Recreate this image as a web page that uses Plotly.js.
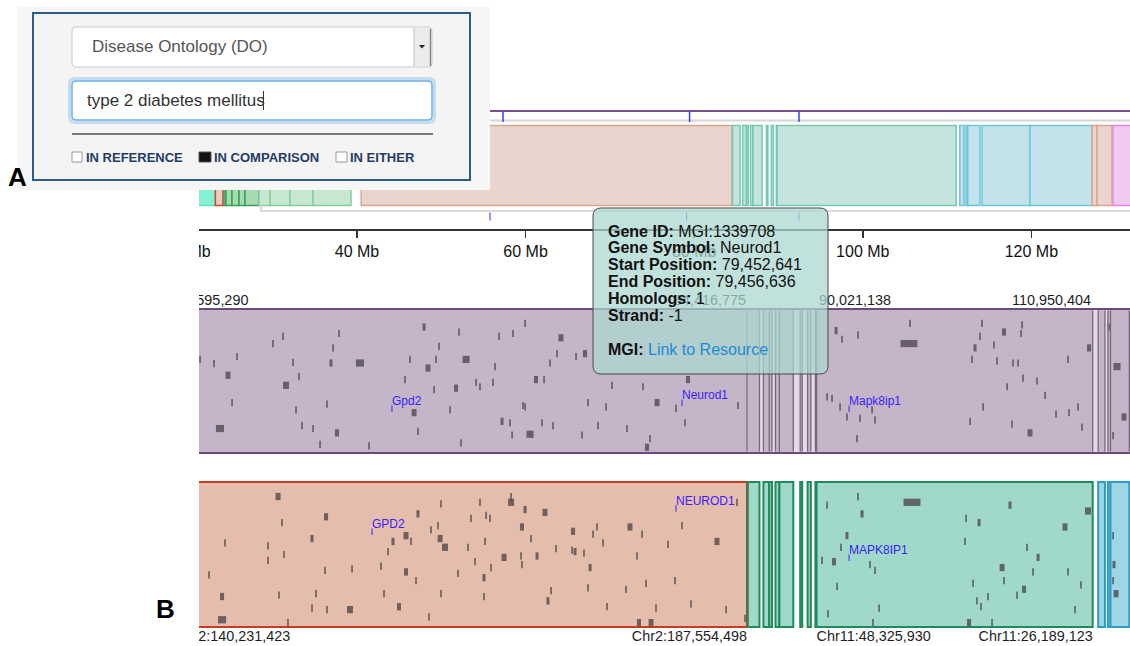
<!DOCTYPE html>
<html><head><meta charset="utf-8">
<script src="https://cdn.plot.ly/plotly-3.0.1.min.js"></script>
<style>html,body{margin:0;padding:0;background:#fff;} #chart{width:1130px;height:646px;}</style>
</head><body><div id="chart"></div>
<script>
// ================= DATA =================
// Synteny blocks along mouse chr2 (Mb) and the colour group of the homologous human chromosome
const blockStart = [19.0, 23.2, 24.22, 24.46, 25.17, 26.0, 26.71, 28.37, 29.68, 32.05, 34.78, 40.5, 84.55, 85.75, 86.2, 86.68, 86.98, 88.58, 89.15, 89.75, 89.84, 111.5, 112.25, 112.45, 114.14, 119.83, 127.19, 127.78, 129.68];
const blockEnd   = [23.16, 24.1, 24.46, 25.17, 26.0, 26.71, 28.37, 29.68, 32.05, 34.78, 39.29, 84.49, 85.45, 86.2, 86.41, 86.98, 88.05, 88.74, 89.4, 89.84, 111.08, 112.02, 112.45, 113.9, 119.83, 127.19, 127.78, 129.56, 136.0];
const blockGroup = ['mint','red','green2','green2','green2','green2','green2','green','green','green','green','orange','teal','teal','teal','teal','teal','teal','teal','teal','teal','blue','blue','blue','blue','blue','orange','orange','pink'];

// overview axis ticks (Mb)
const ovTickVals = [20, 40, 60, 80, 100, 120];
// gene markers on the overview (Mb)
const ovGeneTop = [57.32, 79.45, 92.43];
const ovGeneLow = [55.78, 79.10, 92.43];

// reference (mouse) track block-boundary labels
const refLabelRightVals = [84.416775, 110.950404];
const refLabelRightText = ['84,416,775', '110,950,404'];
const refLabelLeftVals = [40.595290, 90.021138];
const refLabelLeftText = ['40,595,290', '90,021,138'];
// comparison (human) track labels
const compLabelRightVals = [84.49, 111.08];
const compLabelRightText = ['Chr2:187,554,498', 'Chr11:26,189,123'];
const compLabelLeftVals = [40.5, 89.84];
const compLabelLeftText = ['Chr2:140,231,423', 'Chr11:48,325,930'];

// reference track genes (position Mb, lane 0=top..1=bottom, width Mb)
const refMarkX = [42.42,43.49,44.57,43.95,44.88,45.26,48.03,48.80,49.03,49.57,
49.80,50.03,50.26,51.11,51.65,52.18,52.49,52.65,52.95,53.11,
54.72,55.42,58.18,58.57,58.88,59.18,59.65,59.95,60.57,60.80,
60.42,61.65,62.11,62.34,62.49,62.88,63.65,63.95,64.95,65.11,
65.42,65.65,66.26,66.42,66.49,67.42,67.80,68.26,68.88,68.72,
69.34,69.57,69.88,70.18,71.34,72.03,71.80,73.03,73.65,74.11,
75.26,76.49,76.80,77.03,77.57,67.42,67.26,72.26,79.03,79.72,
79.95,91.34,91.80,93.03,96.95,97.03,91.03,91.65,92.18,93.18,
94.34,94.11,92.95,102.57,104.26,105.65,105.57,102.42,102.03,101.80,
103.72,104.95,105.34,106.80,109.18,110.80,112.95,113.49,112.65,106.26,
102.65,104.88,108.26,109.26,109.95,110.26,112.34,101.65,103.49,105.72,
104.50,107.42,83.80,90.65];
const refMarkLane = [0.35,0.38,0.46,0.83,0.65,0.33,0.24,0.19,0.53,0.37,
0.70,0.47,0.81,0.83,0.94,0.66,0.375,0.27,0.86,0.17,
0.375,0.95,0.49,0.35,0.72,0.85,0.125,0.41,0.35,0.26,
0.56,0.70,0.55,0.16,0.93,0.35,0.51,0.54,0.51,0.40,
0.19,0.78,0.79,0.875,0.17,0.10,0.87,0.49,0.49,0.79,
0.375,0.81,0.31,0.20,0.33,0.31,0.875,0.81,0.68,0.53,
0.83,0.54,0.96,0.90,0.65,0.68,0.67,0.65,0.69,0.79,
0.49,0.15,0.21,0.18,0.24,0.10,0.62,0.68,0.75,0.76,
0.77,0.70,0.90,0.10,0.16,0.11,0.17,0.19,0.27,0.35,
0.36,0.375,0.375,0.50,0.35,0.27,0.40,0.75,0.88,0.86,
0.68,0.80,0.73,0.72,0.68,0.82,0.125,0.78,0.25,0.48,
0.54,0.60,0.67,0.61];
const refMarkW = [0.13,0.13,0.38,0.62,0.13,0.13,0.13,0.13,0.46,0.13,
0.13,0.13,0.13,0.13,0.13,0.13,0.23,0.13,0.31,0.13,
0.62,0.13,0.13,0.13,0.38,0.13,0.23,0.38,0.13,0.13,
0.13,0.13,0.31,0.13,0.13,0.54,0.13,0.13,0.13,0.13,
0.13,0.23,0.13,0.13,0.13,0.13,0.54,0.31,0.13,0.13,
0.13,0.13,0.13,0.38,0.13,0.31,0.13,0.13,0.13,0.13,
0.13,0.13,0.31,0.13,0.38,0.13,0.13,0.13,0.13,0.13,
0.31,0.23,0.13,0.13,1.3,0.13,0.13,0.13,0.13,0.13,
0.13,0.13,0.13,0.13,0.31,0.13,0.13,0.13,0.23,0.13,
0.13,0.13,0.13,0.13,0.13,0.31,0.54,0.38,0.13,0.38,
0.13,0.13,0.13,0.13,0.13,0.13,0.13,0.13,0.13,0.13,
0.13,0.13,0.13,0.13];

// comparison track genes
const compMarkX = [48.42,44.11,44.11,43.11,44.34,47.65,47.65,48.72,48.88,48.49,
49.18,51.03,52.11,51.34,51.03,52.03,53.95,54.11,52.18,58.26,
57.26,58.65,58.26,57.72,56.88,56.34,56.57,59.18,59.03,60.03,
60.18,60.88,61.26,60.95,60.72,60.95,62.26,63.03,63.26,63.95,
63.57,64.26,64.42,64.72,64.80,64.34,64.26,65.80,66.34,66.34,
67.42,67.18,67.11,67.18,68.34,67.88,68.95,69.42,69.18,69.80,
71.11,71.26,71.95,72.42,72.95,72.65,73.42,73.72,75.18,75.49,
76.42,76.03,76.72,76.18,77.11,77.49,78.95,79.49,80.18,82.18,
82.88,83.72,84.34,71.03,78.42,72.26,97.18,93.03,93.34,92.18,
91.72,90.26,91.18,93.95,94.34,94.65,94.18,90.72,91.42,90.65,
104.72,101.34,102.34,108.95,110.72,106.88,106.03,104.11,105.80,101.88,
102.18,102.49,101.57,103.34,109.18,110.18,109.72,106.49,104.26,101.26,
103.03,105.26,112.88,112.72,112.65,112.65];
const compMarkLane = [0.10,0.95,0.79,0.64,0.42,0.44,0.54,0.28,0.50,0.78,
0.97,0.39,0.24,0.77,0.87,0.61,0.88,0.60,0.88,0.37,
0.41,0.41,0.62,0.86,0.48,0.58,0.77,0.22,0.68,0.93,
0.33,0.39,0.45,0.15,0.30,0.77,0.63,0.45,0.25,0.14,
0.55,0.66,0.23,0.25,0.59,0.41,0.79,0.52,0.14,0.10,
0.19,0.31,0.51,0.57,0.51,0.39,0.21,0.75,0.82,0.46,
0.34,0.48,0.49,0.59,0.31,0.36,0.42,0.86,0.74,0.31,
0.36,0.51,0.70,0.97,0.97,0.87,0.68,0.30,0.84,0.41,
0.88,0.14,0.94,0.47,0.43,0.73,0.14,0.10,0.22,0.37,
0.45,0.54,0.55,0.57,0.61,0.87,0.97,0.91,0.72,0.16,
0.16,0.25,0.28,0.31,0.20,0.52,0.45,0.59,0.74,0.70,
0.82,0.86,0.97,0.97,0.62,0.71,0.88,0.62,0.68,0.41,
0.79,0.78,0.77,0.57,0.37,0.68];
const compMarkW = [0.38,0.62,0.31,0.13,0.13,0.13,0.13,0.13,0.13,0.13,
0.13,0.23,0.31,0.13,0.13,0.13,0.46,0.13,0.13,0.38,
0.23,0.13,0.31,0.31,0.13,0.13,0.13,0.23,0.13,0.13,
0.13,0.38,0.46,0.13,0.13,0.13,0.13,0.13,0.13,0.13,
0.13,0.23,0.13,0.13,0.13,0.13,0.13,0.38,0.46,0.13,
0.23,0.31,0.13,0.13,0.23,0.13,0.38,0.13,0.23,0.13,
0.31,0.23,0.13,0.23,0.13,0.13,0.13,0.13,0.13,0.38,
0.13,0.13,0.13,0.31,0.38,0.13,0.13,0.13,0.13,0.38,
0.13,0.13,0.13,0.13,0.13,0.13,1.3,0.13,0.23,0.23,
0.13,0.13,0.31,0.13,0.13,0.13,0.13,0.13,0.13,0.13,
0.23,0.13,0.23,0.38,0.46,0.23,0.13,0.38,0.31,0.13,
0.13,0.13,0.31,0.13,0.13,0.13,0.13,0.13,0.13,0.13,
0.13,0.13,0.38,0.23,0.13,0.13];

// highlighted genes
const refGeneNames = ['Gpd2', 'Neurod1', 'Mapk8ip1'];
const refGeneX = [57.18, 79.49, 92.34];
const refGeneLane = [0.64, 0.60, 0.64];
const compGeneNames = ['GPD2', 'NEUROD1', 'MAPK8IP1'];
const compGeneX = [55.65, 79.03, 92.34];
const compGeneLane = [0.29, 0.13, 0.47];

// tooltip
const tipLabels = ['Gene ID:', 'Gene Symbol:', 'Start Position:', 'End Position:', 'Homologs:', 'Strand:', 'MGI:'];
const tipValues = ['MGI:1339708', 'Neurod1', '79,452,641', '79,456,636', '1', '-1', 'Link to Resource'];

// chromosome reference length shown in the middle track (Mb)
const refChrStart = 0, refChrEnd = 182.1;

// ================= STYLE =================
const W = 1130, H = 646;
const FONT = 'Liberation Sans, Arial, Helvetica, sans-serif';
const ovFill = {mint:'#86f2d4', red:'#ecccc2', green2:'#a6dab2', green:'#c8e7d1', orange:'#e9d5cd', teal:'#c6e3dd', blue:'#c4e2e9', pink:'#f1caf1'};
const ovLine = {mint:'#5fe3bd', red:'#d0452c', green2:'#3ba158', green:'#84cd9b', orange:'#dba690', teal:'#74c9b1', blue:'#6cc6dc', pink:'#e985e9'};
const cpFill = {mint:'#86f2d4', red:'#e8bfb3', green2:'#9fd8ab', green:'#b5e0c2', orange:'#e4bdad', teal:'#a0d9c9', blue:'#a0d6e3', pink:'#eebbee'};
const cpLine = {mint:'#3fcf9f', red:'#c53a22', green2:'#2a8c44', green:'#4aae68', orange:'#cc3b1f', teal:'#1f8a5b', blue:'#2a9bcb', pink:'#d860d8'};
const ovRange = [-2.35, 131.70];
const trkRange = [27.03, 113.95];
const py = v => 1 - v / H;

// ================= TRACES =================
const traces = [];
const widths = blockStart.map((s, i) => blockEnd[i] - s);

traces.push({type:'bar', orientation:'h', xaxis:'x', yaxis:'y', base: blockStart, x: widths,
  y: blockStart.map(() => 0.5), width: 1,
  marker:{color: blockGroup.map(g => ovFill[g]), line:{color: blockGroup.map(g => ovLine[g]), width:1.5}},
  hoverinfo:'skip', showlegend:false});

// reference track base
traces.push({type:'bar', orientation:'h', xaxis:'x2', yaxis:'y2', base:[refChrStart], x:[refChrEnd - refChrStart], y:[0.5], width:1,
  marker:{color:'#c4b5c8', line:{color:'#6b4a7c', width:2}}, hoverinfo:'skip', showlegend:false});

// gaps between comparison blocks -> light stripes in reference track
const gapS = [], gapW = [];
for (let i = 0; i < blockStart.length - 1; i++) {
  const g = blockStart[i + 1] - blockEnd[i];
  if (g > 0.02) { gapS.push(blockEnd[i]); gapW.push(g); }
}
traces.push({type:'bar', orientation:'h', xaxis:'x2', yaxis:'y2', base: gapS, x: gapW, y: gapS.map(() => 0.5), width: 0.985,
  marker:{color:'#e6dae8', line:{width:0}}, hoverinfo:'skip', showlegend:false});

// block boundaries -> dark lines in reference track
const bnd = [];
blockStart.concat(blockEnd).sort((a, b) => a - b).forEach(v => { if (!bnd.length || v - bnd[bnd.length - 1] > 0.08) bnd.push(v); });
const bx = [], by = [];
bnd.forEach(v => { bx.push(v, v, null); by.push(0.01, 0.99, null); });
traces.push({type:'scatter', mode:'lines', xaxis:'x2', yaxis:'y2', x: bx, y: by,
  line:{color:'#77667d', width:1.3}, hoverinfo:'skip', showlegend:false});

// reference genes
traces.push({type:'bar', orientation:'h', xaxis:'x2', yaxis:'y2', base: refMarkX.map((x, i) => x - refMarkW[i] / 2), x: refMarkW,
  y: refMarkLane, width: 0.05, marker:{color:'rgba(78,70,80,0.78)', line:{width:0}}, hoverinfo:'skip', showlegend:false});

// comparison blocks
traces.push({type:'bar', orientation:'h', xaxis:'x4', yaxis:'y3', base: blockStart, x: widths,
  y: blockStart.map(() => 0.5), width: 1,
  marker:{color: blockGroup.map(g => cpFill[g]), line:{color: blockGroup.map(g => cpLine[g]), width:2}},
  hoverinfo:'skip', showlegend:false});
// comparison genes
traces.push({type:'bar', orientation:'h', xaxis:'x4', yaxis:'y3', base: compMarkX.map((x, i) => x - compMarkW[i] / 2), x: compMarkW,
  y: compMarkLane, width: 0.05, marker:{color:'rgba(66,58,62,0.72)', line:{width:0}}, hoverinfo:'skip', showlegend:false});

// small blue ticks under gene labels
function geneTicks(xs, lanes, xa, ya) {
  const x = [], y = [];
  xs.forEach((g, i) => { x.push(g, g, null); y.push(lanes[i] + 0.03, lanes[i] + 0.075, null); });
  traces.push({type:'scatter', mode:'lines', xaxis:xa, yaxis:ya, x, y, line:{color:'#3a22ff', width:1}, hoverinfo:'skip', showlegend:false});
}
geneTicks(refGeneX, refGeneLane, 'x2', 'y2');
geneTicks(compGeneX, compGeneLane, 'x4', 'y3');

// invisible anchors so overlay axes are drawn
traces.push({type:'scatter', mode:'markers', xaxis:'x3', yaxis:'y2', x:[60], y:[0.5], marker:{opacity:0}, hoverinfo:'skip', showlegend:false});
traces.push({type:'scatter', mode:'markers', xaxis:'x5', yaxis:'y3', x:[60], y:[0.5], marker:{opacity:0}, hoverinfo:'skip', showlegend:false});

// ================= LAYOUT =================
const trkTickFont = {family:FONT, size:14.4, color:'#1e1e1e'};
const baseTrkAxis = {range: trkRange, showgrid:false, zeroline:false, showline:false, ticks:'', fixedrange:true, tickfont: trkTickFont};

const shapes = [];
const R = (x0, y0, x1, y1, opt) => shapes.push(Object.assign({type:'rect', xref:'paper', yref:'paper', x0:x0 / W, x1:x1 / W, y0:py(y1), y1:py(y0), layer:'above'}, opt));
const Ln = (x0, y0, x1, y1, color, width) => shapes.push({type:'line', xref:'paper', yref:'paper', x0:x0 / W, x1:x1 / W, y0:py(y0), y1:py(y1), line:{color, width}, layer:'above'});
function rr(x0, y0, x1, y1, r) {
  const X = v => (v / W).toFixed(5), Y = v => py(v).toFixed(5);
  return `M${X(x0 + r)},${Y(y0)} L${X(x1 - r)},${Y(y0)} Q${X(x1)},${Y(y0)} ${X(x1)},${Y(y0 + r)} L${X(x1)},${Y(y1 - r)} Q${X(x1)},${Y(y1)} ${X(x1 - r)},${Y(y1)} L${X(x0 + r)},${Y(y1)} Q${X(x0)},${Y(y1)} ${X(x0)},${Y(y1 - r)} L${X(x0)},${Y(y0 + r)} Q${X(x0)},${Y(y0)} ${X(x0 + r)},${Y(y0)} Z`;
}
const RR = (x0, y0, x1, y1, r, opt) => shapes.push(Object.assign({type:'path', xref:'paper', yref:'paper', path: rr(x0, y0, x1, y1, r), layer:'above'}, opt));

// overview decorations
Ln(0, 111, W, 111, '#7b4f8d', 2);
Ln(0, 120.5, W, 120.5, '#d6d6d6', 2);
shapes.push({type:'path', xref:'paper', yref:'paper', layer:'above', line:{color:'#cfcfcf', width:1.5},
  path:`M${(261 / W).toFixed(5)},${py(205).toFixed(5)} L${(261 / W).toFixed(5)},${py(211).toFixed(5)} L1,${py(211).toFixed(5)}`});
ovGeneTop.forEach(g => shapes.push({type:'line', xref:'x', yref:'paper', x0:g, x1:g, y0:py(111), y1:py(122), line:{color:'#3b3bff', width:1.5}, layer:'above'}));
ovGeneLow.forEach(g => shapes.push({type:'line', xref:'x', yref:'paper', x0:g, x1:g, y0:py(212.5), y1:py(220.5), line:{color:'#5252ff', width:1.2}, layer:'above'}));

// crop of the browser view on the left
R(0, 100, 199, H, {fillcolor:'#ffffff', line:{width:0}});

// ---- panel A (search widget) ----
R(17, 7, 490, 190, {fillcolor:'#f6f6f6', line:{width:0}});
R(33, 13, 470, 180, {fillcolor:'#f4f4f4', line:{color:'#2d5b8b', width:2}});
RR(72, 27, 432, 67, 4, {fillcolor:'#ffffff', line:{color:'#c9c9c9', width:1}});
R(414, 28, 430, 66, {fillcolor:'#ececec', line:{width:0}});
Ln(414, 28, 414, 66, '#bdbdbd', 1);
Ln(430.5, 29, 430.5, 66, '#8a8a8a', 1.5);
shapes.push({type:'path', xref:'paper', yref:'paper', layer:'above', fillcolor:'#222', line:{width:0},
  path:`M${(419 / W).toFixed(5)},${py(45).toFixed(5)} L${(425 / W).toFixed(5)},${py(45).toFixed(5)} L${(422 / W).toFixed(5)},${py(48.5).toFixed(5)} Z`});
RR(69.5, 78.5, 434.5, 122.5, 6, {fillcolor:'rgba(0,0,0,0)', line:{color:'rgba(102,175,233,0.35)', width:3}});
RR(72, 81, 432, 120, 4, {fillcolor:'#ffffff', line:{color:'#66afe9', width:1.5}});
Ln(263.5, 91, 263.5, 110, '#333', 1);
Ln(72, 134, 433, 134, '#7a7a7a', 2);
R(72, 152, 82, 162, {fillcolor:'#ffffff', line:{color:'#9a9a9a', width:1}});
R(199, 152, 211, 162, {fillcolor:'#111111', line:{color:'#555', width:1}});
R(336, 152, 347, 162, {fillcolor:'#ffffff', line:{color:'#9a9a9a', width:1}});

// ---- tooltip ----
RR(593, 208, 828, 374, 8, {fillcolor:'rgba(172,214,208,0.74)', line:{color:'#4a4a4a', width:1}});

// ================= ANNOTATIONS =================
const ann = [];
const A = (x, y, text, size, color, opt) => ann.push(Object.assign({xref:'paper', yref:'paper', x: x / W, y: py(y), text, showarrow:false,
  xanchor:'left', yanchor:'middle', borderpad:0, borderwidth:0, font:{family:FONT, size, color}}, opt || {}));

refGeneNames.forEach((n, i) => ann.push({xref:'x2', yref:'y2', x: refGeneX[i], y: refGeneLane[i], text:n, showarrow:false,
  xanchor:'left', yanchor:'middle', borderpad:0, borderwidth:0, font:{family:FONT, size:12, color:'#3a22ff'}}));
compGeneNames.forEach((n, i) => ann.push({xref:'x4', yref:'y3', x: compGeneX[i], y: compGeneLane[i], text:n, showarrow:false,
  xanchor:'left', yanchor:'middle', borderpad:0, borderwidth:0, font:{family:FONT, size:12, color:'#3a22ff'}}));

A(92, 46.5, 'Disease Ontology (DO)', 17, '#555555');
A(87, 100.5, 'type 2 diabetes mellitus', 17, '#333333');
A(86, 157.5, '<b>IN REFERENCE</b>', 13, '#1f3d66');
A(214, 157.5, '<b>IN COMPARISON</b>', 13, '#1f3d66');
A(350, 157.5, '<b>IN EITHER</b>', 13, '#1f3d66');
A(8, 177, '<b>A</b>', 26, '#000000');
A(156, 609, '<b>B</b>', 26, '#000000');

const tipY = [231, 247.5, 264, 281, 298, 315, 349];
tipLabels.forEach((l, i) => {
  const val = i === tipLabels.length - 1 ? `<span style="color:#1e8bd3">${tipValues[i]}</span>` : tipValues[i];
  A(608, tipY[i], `<b>${l}</b> ${val}`, 16, '#111111');
});

const layout = {
  width: W, height: H, margin:{l:0, r:0, t:0, b:0, pad:0},
  paper_bgcolor:'#ffffff', plot_bgcolor:'rgba(0,0,0,0)',
  barmode:'overlay', showlegend:false, hovermode:false, dragmode:false,
  font:{family:FONT},
  xaxis:{domain:[0, 1], range: ovRange, anchor:'free', position: py(229), side:'bottom',
    showline:true, linecolor:'#333', linewidth:1.5, ticks:'outside', ticklen:7, tickwidth:1.5, tickcolor:'#333',
    tickvals: ovTickVals, ticktext: ovTickVals.map(v => v + ' Mb'), tickfont:{family:FONT, size:16, color:'#111'},
    showgrid:false, zeroline:false, fixedrange:true},
  yaxis:{domain:[py(207.5), py(123.5)], range:[-0.025, 1.025], visible:false, fixedrange:true, anchor:'x'},
  xaxis2: Object.assign({}, baseTrkAxis, {domain:[0, 1], anchor:'y2', side:'top', tickvals: refLabelRightVals, ticktext: refLabelRightText,
    ticklabelposition:'outside left', ticklabelstandoff:-2}),
  xaxis3: Object.assign({}, baseTrkAxis, {overlaying:'x2', anchor:'y2', side:'top', tickvals: refLabelLeftVals, ticktext: refLabelLeftText,
    ticklabelposition:'outside right', ticklabelstandoff:-2}),
  yaxis2:{domain:[py(455), py(307)], range:[1.0139, -0.0139], visible:false, fixedrange:true, anchor:'x2'},
  xaxis4: Object.assign({}, baseTrkAxis, {domain:[0, 1], anchor:'y3', side:'bottom', tickvals: compLabelRightVals, ticktext: compLabelRightText,
    ticklabelposition:'outside left', ticklabelstandoff:-3}),
  xaxis5: Object.assign({}, baseTrkAxis, {overlaying:'x4', anchor:'y3', side:'bottom', tickvals: compLabelLeftVals, ticktext: compLabelLeftText,
    ticklabelposition:'outside right', ticklabelstandoff:-3}),
  yaxis3:{domain:[py(629), py(480)], range:[1.0138, -0.0138], visible:false, fixedrange:true, anchor:'x4'},
  shapes, annotations: ann
};

Plotly.newPlot('chart', traces, layout, {staticPlot:true, displayModeBar:false});
</script>
</body></html>
